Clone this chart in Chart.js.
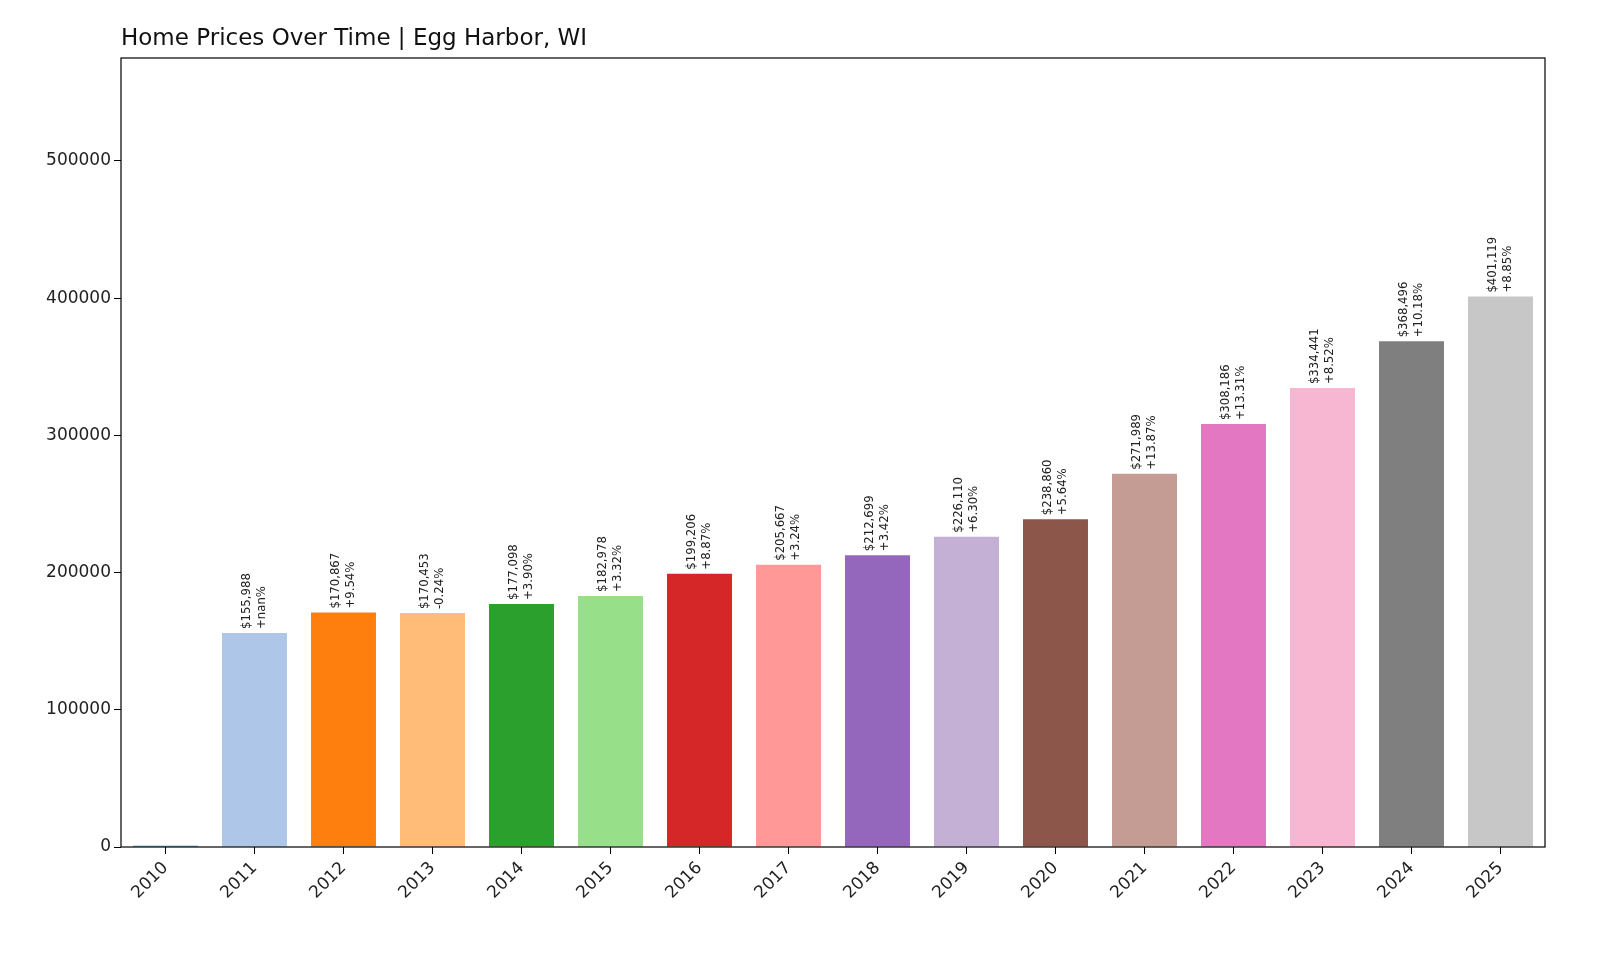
<!DOCTYPE html>
<html><head><meta charset="utf-8">
<script src="https://cdn.jsdelivr.net/npm/chart.js@4.4.1/dist/chart.umd.min.js"></script>
<style>html,body{margin:0;background:#fff;overflow:hidden}#wrap{width:1600px;height:960px}</style>
</head><body><div id="wrap"><canvas id="c"></canvas></div>
<script>
// home prices, one bar per year
const years = ["2010","2011","2012","2013","2014","2015","2016","2017","2018","2019","2020","2021","2022","2023","2024","2025"];
const prices = [1000,155988,170867,170453,177098,182978,199206,205667,212699,226110,238860,271989,308186,334441,368496,401119];
const changes = [null,"+nan%","+9.54%","-0.24%","+3.90%","+3.32%","+8.87%","+3.24%","+3.42%","+6.30%","+5.64%","+13.87%","+13.31%","+8.52%","+10.18%","+8.85%"];
const colors = ["#1f77b4","#aec7e8","#ff7f0e","#ffbb78","#2ca02c","#98df8a","#d62728","#ff9896","#9467bd","#c5b0d5","#8c564b","#c49c94","#e377c2","#f7b6d2","#7f7f7f","#c7c7c7"];
const yTicks = [0,100000,200000,300000,400000,500000];

const font = "DejaVu Sans";

const extras = {
  id: "extras",
  afterDatasetsDraw(chart) {
    const c = chart.ctx, a = chart.chartArea;
    const meta = chart.getDatasetMeta(0);
    c.save();
    // value labels above bars
    c.fillStyle = "#222";
    c.font = "13px 'DejaVu Sans Condensed', " + font;
    meta.data.forEach((bar, i) => {
      if (!changes[i]) return;
      const money = "$" + prices[i].toLocaleString("en-US");
      c.save();
      c.translate(bar.x, bar.y - 4);
      c.rotate(-Math.PI / 2);
      c.textAlign = "left";
      c.textBaseline = "bottom";
      c.fillText(money, 0, -1);
      c.textBaseline = "top";
      c.fillText(changes[i], 0, 1);
      c.restore();
    });
    // frame
    c.strokeStyle = "#000";
    c.lineWidth = 1.2;
    c.strokeRect(a.left, a.top, a.right - a.left, a.bottom - a.top);
    // title
    c.fillStyle = "#111";
    c.font = "23px " + font;
    c.textAlign = "left";
    c.textBaseline = "alphabetic";
    c.fillText("Home Prices Over Time | Egg Harbor, WI", a.left, 45);
    c.restore();
  }
};

new Chart(document.getElementById("c"), {
  type: "bar",
  data: {
    labels: years,
    datasets: [{ data: prices, backgroundColor: colors, barPercentage: 0.73, categoryPercentage: 1 }]
  },
  options: {
    responsive: true,
    maintainAspectRatio: false,
    animation: false,
    layout: { padding: { left: 0, right: 55, top: 58, bottom: 0 } },
    plugins: { legend: { display: false }, tooltip: { enabled: false } },
    scales: {
      x: {
        grid: { display: true, drawOnChartArea: false, drawTicks: true, tickLength: 7, tickColor: "#000", offset: false },
        border: { display: false },
        ticks: { color: "#222", font: { family: font, size: 17 }, maxRotation: 45, minRotation: 45, padding: 4 },
        afterFit(s) { s.height = 113; }
      },
      y: {
        min: 0, max: 575000,
        afterBuildTicks(s) { s.ticks = yTicks.map(v => ({ value: v })); },
        grid: { display: true, drawOnChartArea: false, drawTicks: true, tickLength: 7, tickColor: "#000" },
        border: { display: false },
        ticks: { color: "#222", font: { family: font, size: 17 }, callback: v => String(v) },
        afterFit(s) { s.width = 121; }
      }
    }
  },
  plugins: [extras]
});
</script></body></html>
